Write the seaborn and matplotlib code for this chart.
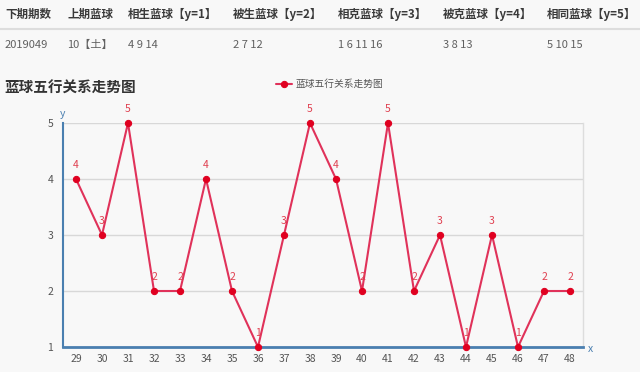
import matplotlib
matplotlib.use("Agg")
import matplotlib.pyplot as plt
import seaborn as sns
import pandas as pd

periods = [29, 30, 31, 32, 33, 34, 35, 36, 37, 38, 39, 40, 41, 42, 43, 44, 45, 46, 47, 48]
values = [4, 3, 5, 2, 2, 4, 2, 1, 3, 5, 4, 2, 5, 2, 3, 1, 3, 1, 2, 2]
y_ticks = [1, 2, 3, 4, 5]

table_headers = ["下期期数", "上期蓝球", "相生蓝球【y=1】", "被生蓝球【y=2】", "相克蓝球【y=3】", "被克蓝球【y=4】", "相同蓝球【y=5】"]
table_row = ["2019049", "10【土】", "4 9 14", "2 7 12", "1 6 11 16", "3 8 13", "5 10 15"]
col_x = [5, 67, 128, 233, 338, 443, 547]

series_name = "蓝球五行关系走势图"
title = "蓝球五行关系走势图"

sns.set_theme(style="white")
plt.rcParams['font.family'] = ['Noto Sans CJK SC', 'DejaVu Sans']

BG = "#f8f8f8"
W, H = 640, 372
fig = plt.figure(figsize=(6.4, 3.72), dpi=100, facecolor=BG)

def fx(px):
    return px / W

def fy(py):
    return 1 - py / H

# table
for x, t in zip(col_x, table_headers):
    fig.text(fx(x), fy(14), t, fontsize=8.3, fontweight="bold", color="#3a3a3a", va="center", ha="left")
for x, t in zip(col_x, table_row):
    fig.text(fx(x), fy(45), t, fontsize=8, color="#606060", va="center", ha="left")
fig.add_artist(plt.Line2D([0, 1], [fy(29), fy(29)], color="#dddddd", lw=1.5, transform=fig.transFigure))

# title
fig.text(fx(4), fy(88), title, fontsize=10.5, fontweight="bold", color="#333333", va="center", ha="left")

ax = fig.add_axes([fx(63), fy(347), fx(583) - fx(63), fy(123) - fy(347)])
ax.set_facecolor(BG)

df = pd.DataFrame({"period": periods, "value": values, "series": series_name})
sns.lineplot(data=df, x="period", y="value", ax=ax, color="#e0325a", lw=1.5,
             marker="o", markersize=4.5, markerfacecolor="#e00020", markeredgecolor="#e00020",
             label=series_name, clip_on=False, zorder=3)

for p, v in zip(periods, values):
    ax.annotate(str(v), (p, v), xytext=(0, 6.5), textcoords="offset points",
                ha="center", va="bottom", fontsize=7.5, color="#e04050")

ax.set_xlim(28.5, 48.5)
ax.set_ylim(1, 5)
ax.set_xticks(periods)
ax.set_xticklabels([str(p) for p in periods])
ax.set_xticks([p + 0.5 for p in periods[:-1]] + [28.5, 48.5], minor=True)
ax.set_yticks(y_ticks)
ax.tick_params(axis="x", which="major", length=0, labelsize=7.5, colors="#555555", pad=5)
ax.tick_params(axis="x", which="minor", length=3, width=1, color="#4a7fb0", direction="inout")
ax.tick_params(axis="y", length=0, labelsize=7.5, colors="#555555", pad=7)
ax.set_xlabel("")
ax.set_ylabel("")
ax.grid(axis="y", color="#d8d8d8", lw=1)
ax.set_axisbelow(True)

ax.spines["top"].set_visible(False)
ax.spines["right"].set_color("#dddddd")
ax.spines["right"].set_linewidth(1)
ax.spines["left"].set_color("#4a7fb0")
ax.spines["left"].set_linewidth(1.5)
ax.spines["bottom"].set_color("#4a7fb0")
ax.spines["bottom"].set_linewidth(2)

fig.text(fx(63), fy(114), "y", fontsize=7.5, color="#4a7fb0", ha="center", va="center")
fig.text(fx(590), fy(349), "x", fontsize=7.5, color="#4a7fb0", ha="center", va="center")

leg = ax.legend(loc="center", bbox_to_anchor=(fx(330), fy(84)), bbox_transform=fig.transFigure,
                frameon=False, fontsize=7, handlelength=1.6, handletextpad=0.4)
for t in leg.get_texts():
    t.set_color("#555555")

fig.savefig("out.png", dpi=100, facecolor=BG)
